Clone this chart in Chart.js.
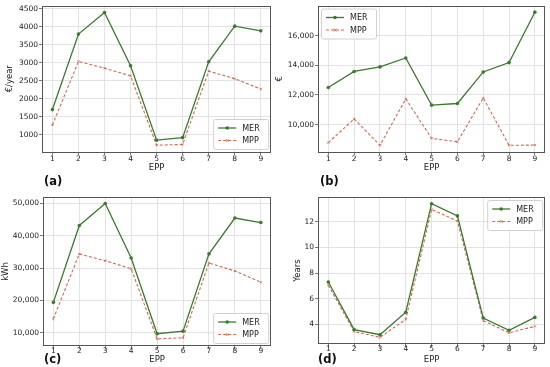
<!DOCTYPE html>
<html>
<head>
<meta charset="utf-8">
<script src="https://cdn.jsdelivr.net/npm/chart.js@4.4.1/dist/chart.umd.min.js"></script>
<style>
  body { margin: 0; background: #fff; width: 550px; height: 367px; overflow: hidden; position: relative; }
  canvas { position: absolute; }
  .lbl { position: absolute; font: bold 11.5px "DejaVu Sans", sans-serif; color: #111; }
</style>
</head>
<body>
<canvas id="cA" width="276" height="175" style="left:0;top:0"></canvas>
<canvas id="cB" width="275" height="175" style="left:275px;top:0"></canvas>
<canvas id="cC" width="276" height="182" style="left:0;top:185px"></canvas>
<canvas id="cD" width="275" height="182" style="left:275px;top:185px"></canvas>
<div class="lbl" style="left:44px;top:174px">(a)</div>
<div class="lbl" style="left:320px;top:174px">(b)</div>
<div class="lbl" style="left:44px;top:352px">(c)</div>
<div class="lbl" style="left:318px;top:352px">(d)</div>
<script>
// dati
var EPP = [1, 2, 3, 4, 5, 6, 7, 8, 9];
var merCost = [1700, 3800, 4400, 2920, 850, 920, 3030, 4020, 3890];
var mppCost = [1270, 3040, 2850, 2640, 710, 730, 2770, 2560, 2270];
var merInvest = [12500, 13580, 13890, 14490, 11310, 11420, 13550, 14180, 17580];
var mppInvest = [8780, 10380, 8600, 11730, 9070, 8840, 11800, 8600, 8620];
var merEnergy = [19400, 43200, 50000, 33150, 9700, 10500, 34400, 45500, 44100];
var mppEnergy = [14300, 34400, 32300, 29800, 8100, 8450, 31600, 29100, 25600];
var merPayback = [7.3, 3.6, 3.2, 4.95, 13.4, 12.45, 4.5, 3.55, 4.55];
var mppPayback = [7.05, 3.45, 3.0, 4.4, 12.95, 12.05, 4.3, 3.35, 3.85];

var ticksA = [1000, 1500, 2000, 2500, 3000, 3500, 4000, 4500];
var ticksB = [10000, 12000, 14000, 16000];
var ticksC = [10000, 20000, 30000, 40000, 50000];
var ticksD = [4, 6, 8, 10, 12];

var VERDE = '#3a7a2c';
var ROSSO = '#cf6a52';
var FONT = '"DejaVu Sans", sans-serif';

function punti(arr) {
    return arr.map(function(v, i) { return { x: EPP[i], y: v }; });
}

// cornice e legenda disegnate a mano
var cornice = {
    id: 'cornice',
    afterDatasetsDraw: function(chart) {
        var a = chart.chartArea, ctx = chart.ctx;
        ctx.save();
        ctx.strokeStyle = '#555';
        ctx.lineWidth = 1;
        ctx.strokeRect(Math.round(a.left) + 0.5, Math.round(a.top) + 0.5,
            Math.round(a.right - a.left) - 1, Math.round(a.bottom - a.top) - 1);
        ctx.restore();
    },
    afterDraw: function(chart) {
        var pos = chart.options.plugins.cornice.pos;
        var a = chart.chartArea, ctx = chart.ctx;
        var w = 55, h = 30, m = 3;
        var x = pos.indexOf('r') >= 0 ? a.right - m - w : a.left + m;
        var y = pos.indexOf('b') >= 0 ? a.bottom - m - h : a.top + m;
        ctx.save();
        ctx.fillStyle = 'rgba(255,255,255,0.85)';
        ctx.strokeStyle = '#d0d0d0';
        ctx.lineWidth = 1;
        ctx.beginPath();
        ctx.roundRect(x + 0.5, y + 0.5, w, h, 2);
        ctx.fill();
        ctx.stroke();
        ctx.font = '8px ' + FONT;
        ctx.textBaseline = 'middle';
        chart.data.datasets.forEach(function(ds, i) {
            var ry = y + 9 + i * 12.5;
            ctx.strokeStyle = ds.borderColor;
            ctx.lineWidth = ds.borderWidth;
            ctx.setLineDash(ds.borderDash || []);
            ctx.beginPath();
            ctx.moveTo(x + 5, ry);
            ctx.lineTo(x + 23, ry);
            ctx.stroke();
            ctx.setLineDash([]);
            var cx = x + 14;
            if (ds.pointStyle === 'circle') {
                ctx.fillStyle = ds.borderColor;
                ctx.beginPath();
                ctx.arc(cx, ry, 1.8, 0, Math.PI * 2);
                ctx.fill();
            } else {
                ctx.lineWidth = 0.8;
                ctx.beginPath();
                ctx.moveTo(cx - 1.5, ry - 1.5); ctx.lineTo(cx + 1.5, ry + 1.5);
                ctx.moveTo(cx - 1.5, ry + 1.5); ctx.lineTo(cx + 1.5, ry - 1.5);
                ctx.stroke();
            }
            ctx.fillStyle = '#222';
            ctx.fillText(ds.label, x + 29, ry + 0.5);
        });
        ctx.restore();
    }
};

function creaGrafico(id, mer, mpp, yTicks, yMin, yMax, titoloY, formato, cfg) {
    var ctx = document.getElementById(id).getContext('2d');
    return new Chart(ctx, {
        type: 'line',
        data: {
            datasets: [{
                label: 'MER',
                data: punti(mer),
                borderColor: VERDE,
                backgroundColor: VERDE,
                borderWidth: 1.3,
                pointStyle: 'circle',
                pointRadius: 1.8,
                pointBorderWidth: 0,
                tension: 0
            }, {
                label: 'MPP',
                data: punti(mpp),
                borderColor: ROSSO,
                backgroundColor: ROSSO,
                borderWidth: 1.1,
                borderDash: [3, 2],
                pointStyle: 'crossRot',
                pointRadius: 1.6,
                pointBorderWidth: 0.8,
                tension: 0
            }]
        },
        options: {
            responsive: false,
            animation: false,
            devicePixelRatio: 1,
            layout: { padding: { top: cfg.top, right: cfg.right, left: 0, bottom: 0 } },
            plugins: {
                legend: { display: false },
                tooltip: { enabled: false },
                cornice: { pos: cfg.legenda }
            },
            scales: {
                x: {
                    type: 'linear',
                    min: 0.6,
                    max: 9.4,
                    afterBuildTicks: function(s) { s.ticks = EPP.map(function(v) { return { value: v }; }); },
                    afterFit: function(s) { s.height = cfg.xH; },
                    grid: { color: '#dcdcdc', lineWidth: 0.8, tickLength: 3, tickColor: '#555' },
                    border: { display: false },
                    ticks: { font: { family: FONT, size: 7.5 }, color: '#222', padding: cfg.xp, maxRotation: 0 },
                    title: { display: true, text: 'EPP', color: '#222', font: { family: FONT, size: 8.5 }, padding: { top: 0, bottom: 2 } }
                },
                y: {
                    min: yMin,
                    max: yMax,
                    afterBuildTicks: function(s) { s.ticks = yTicks.map(function(v) { return { value: v }; }); },
                    afterFit: function(s) { s.width = cfg.yW; },
                    grid: { color: '#dcdcdc', lineWidth: 0.8, tickLength: 3, tickColor: '#555' },
                    border: { display: false },
                    ticks: { font: { family: FONT, size: 7.5 }, color: '#222', padding: 1, callback: formato },
                    title: { display: true, text: titoloY, color: '#222', font: { family: FONT, size: 8.5 }, padding: { top: cfg.tp, bottom: 0 } }
                }
            }
        },
        plugins: [cornice]
    });
}

function semplice(v) { return String(v); }
function migliaia(v) { return v.toLocaleString('en-US'); }

creaGrafico('cA', merCost, mppCost, ticksA, 520, 4595, '€/year', semplice,
    { top: 3, right: 2, xH: 23, yW: 42, tp: 5, xp: 0, legenda: 'br' });
creaGrafico('cB', merInvest, mppInvest, ticksB, 8150, 18030, '€', migliaia,
    { top: 3, right: 1, xH: 23, yW: 43, tp: 0, xp: 0, legenda: 'tl' });
creaGrafico('cC', merEnergy, mppEnergy, ticksC, 5900, 52000, 'kWh', migliaia,
    { top: 12, right: 2, xH: 21, yW: 43, tp: 1, xp: -2, legenda: 'br' });
creaGrafico('cD', merPayback, mppPayback, ticksD, 2.48, 13.92, 'Years', semplice,
    { top: 12, right: 1, xH: 23, yW: 43, tp: 18, xp: -2, legenda: 'tr' });
</script>
</body>
</html>
